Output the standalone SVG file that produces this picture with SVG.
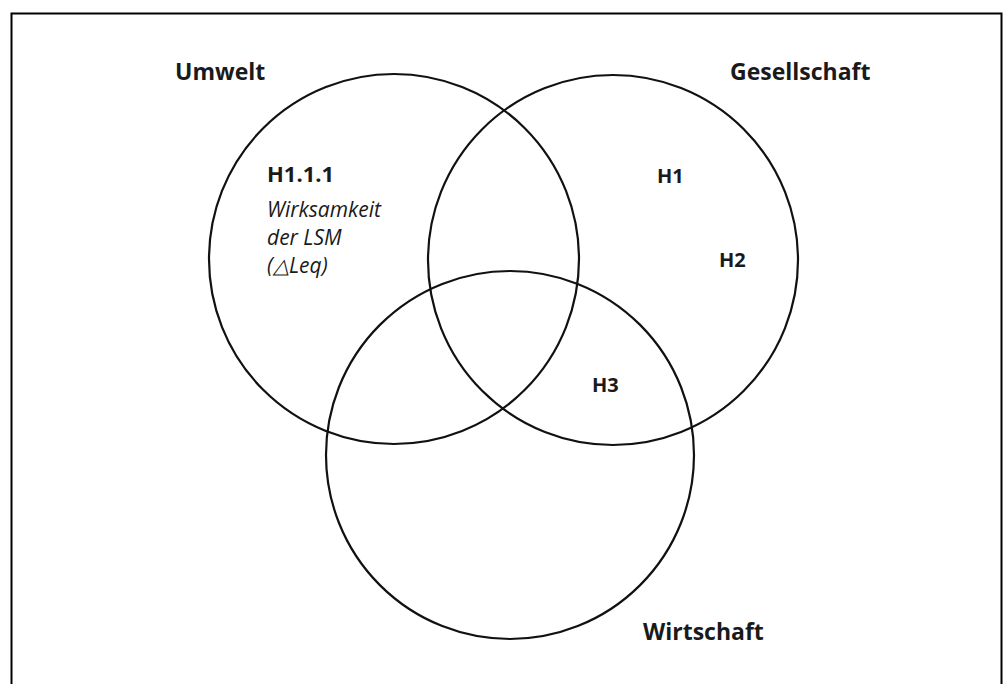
<svg xmlns="http://www.w3.org/2000/svg" width="1007" height="684" viewBox="0 0 1007 684">
<style>
.c{fill:none;stroke:#111;stroke-width:2.2}
.b{font-family:"Open Sans","Liberation Sans",sans-serif;font-weight:700;fill:#1a1a1a}
.i{font-family:"Open Sans","Liberation Sans",sans-serif;font-style:italic;fill:#1a1a1a;font-size:21px}
</style>
<rect x="0" y="0" width="1007" height="684" fill="#fff"/>
<path d="M11.5,690 V13.5 H1001.5 V690" fill="none" stroke="#000" stroke-width="2"/>
<g id="umwelt">
<circle class="c" cx="394" cy="259" r="185"/>
<text class="b" x="175" y="80" font-size="23">Umwelt</text>
<text class="b" x="267" y="182" font-size="22">H1.1.1</text>
<text class="i" x="267" y="217">Wirksamkeit</text>
<text class="i" x="267" y="245">der LSM</text>
<text class="i" x="267" y="273">(△Leq)</text>
</g>
<g id="gesellschaft">
<circle class="c" cx="613" cy="260" r="185"/>
<text class="b" x="730" y="80" font-size="23">Gesellschaft</text>
<text class="b" x="657" y="183" font-size="20">H1</text>
<text class="b" x="719" y="267" font-size="20">H2</text>
</g>
<g id="wirtschaft">
<circle class="c" cx="510" cy="455" r="184"/>
<text class="b" x="643" y="640" font-size="23">Wirtschaft</text>
<text class="b" x="592" y="392" font-size="20">H3</text>
</g>
</svg>
